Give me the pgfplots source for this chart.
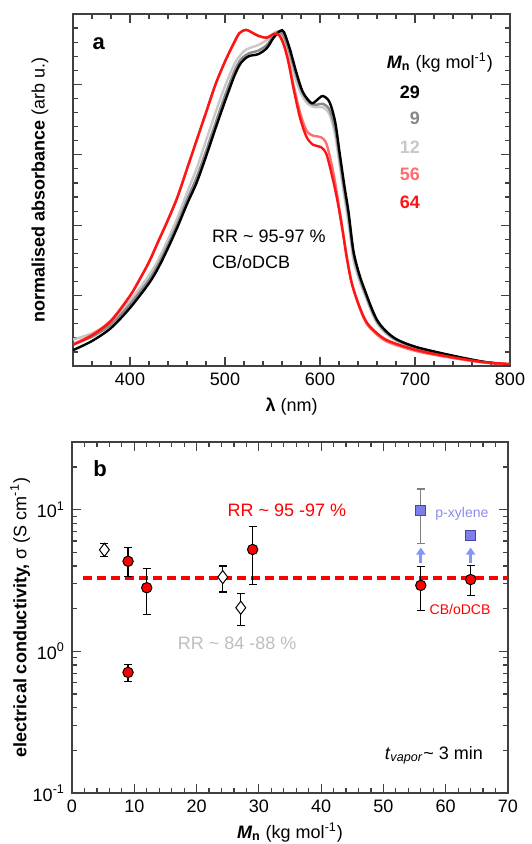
\documentclass[border=0pt]{standalone}
\usepackage{fontspec}
\setmainfont{Liberation Sans}
\usepackage{pgfplots}
\pgfplotsset{compat=1.18}
\usetikzlibrary{arrows.meta}

\definecolor{lgray}{RGB}{200,200,200}
\definecolor{mgray}{RGB}{135,135,135}
\definecolor{lred}{RGB}{255,110,110}
\definecolor{pred}{RGB}{255,20,20}
\definecolor{sqblue}{RGB}{125,125,235}
\definecolor{sqedge}{RGB}{70,70,160}
\definecolor{txtblue}{RGB}{140,140,240}
\definecolor{arrblue}{RGB}{130,150,250}
\definecolor{rrgray}{RGB}{190,190,190}
\definecolor{axgray}{RGB}{64,64,64}

\newcommand{\fs}[1]{\fontsize{#1}{#1}\selectfont}

\pgfplotsset{
  panel/.style={
    scale only axis,
    anchor=south west,
    font=\fs{9bp},
    tick label style={font=\fs{9bp}},
    label style={font=\fs{9bp}},
    axis line style={axgray, line width=0.75bp},
    /pgf/number format/assume math mode=true,
  },
  spec/.style={smooth, line width=1.2bp, no markers},
  ebar/.style={error bars/.cd, y dir=both, y explicit,
    error bar style={black, line width=0.6bp},
    error mark options={rotate=90, mark size=2bp, line width=0.6bp, black}},
}

\begin{document}
\begin{tikzpicture}
% page frame (no drawing, only extent)
\path (0,0) rectangle (262.5bp,-422bp);

% ---------------- panel a ----------------
\begin{axis}[panel,
  at={(36.5bp,-183bp)}, width=218.5bp, height=176bp,
  xmin=340, xmax=800, ymin=0, ymax=1,
  xtick={400,500,600,700,800},
  minor xtick={360,380,420,440,460,480,520,540,560,580,620,640,660,680,720,740,760,780},
  ytick={0,0.2,0.4,0.6,0.8,1},
  minor ytick={0.04,0.08,0.12,0.16,0.24,0.28,0.32,0.36,0.44,0.48,0.52,0.56,0.64,0.68,0.72,0.76,0.84,0.88,0.92,0.96},
  yticklabels={},
  major tick length=4.5bp,
  minor tick length=2.5bp,
  xtick style={axgray, line width=0.6bp},
  ytick style={axgray, line width=0.6bp},
  xlabel={{\bfseries λ} (nm)},
  ylabel={{\bfseries normalised absorbance} (arb u.)},
  xlabel style={at={(axis description cs:0.5,-0.114)}, anchor=center},
  ylabel style={at={(axis description cs:-0.0755,0.5)}, anchor=center},
]
% Mn = 12
\addplot[spec, lgray] table {
340 0.075
360 0.093
380 0.125
400 0.185
420 0.258
430 0.303
440 0.360
450 0.422
460 0.492
470 0.560
480 0.640
490 0.720
500 0.795
510 0.858
517 0.886
523 0.900
535 0.912
544 0.926
550 0.942
554 0.950
559 0.943
565 0.900
572 0.835
579 0.780
587 0.745
595 0.735
603 0.735
610 0.715
616 0.655
621 0.565
626 0.475
630 0.405
635 0.305
640 0.255
646 0.210
660 0.122
677 0.077
700 0.052
737 0.029
772 0.012
800 0.004
};
% Mn = 9
\addplot[spec, mgray] table {
340 0.062
360 0.083
380 0.118
400 0.175
420 0.245
430 0.290
440 0.345
450 0.405
460 0.472
470 0.535
480 0.610
490 0.690
500 0.768
510 0.838
517 0.872
525 0.888
535 0.896
544 0.912
551 0.938
556 0.950
561 0.942
567 0.900
574 0.835
581 0.780
589 0.748
596 0.742
603 0.745
610 0.728
616 0.673
621 0.583
626 0.493
630 0.425
635 0.322
640 0.266
646 0.218
660 0.127
677 0.080
700 0.054
737 0.030
772 0.012
800 0.004
};
% Mn = 29
\addplot[spec, black] table {
340 0.045
360 0.071
380 0.108
400 0.165
420 0.235
430 0.280
440 0.335
450 0.395
460 0.460
470 0.520
480 0.595
490 0.675
500 0.752
510 0.825
517 0.862
525 0.880
535 0.886
544 0.903
551 0.932
558 0.952
562 0.949
568 0.903
575 0.835
582 0.778
591 0.747
597 0.756
603 0.767
610 0.750
616 0.693
621 0.599
626 0.506
630 0.438
635 0.330
640 0.273
646 0.224
660 0.131
677 0.082
700 0.055
737 0.031
772 0.012
800 0.003
};
% Mn = 56
\addplot[spec, lred] table {
340 0.062
360 0.089
380 0.130
400 0.200
410 0.246
420 0.296
430 0.356
440 0.416
450 0.481
460 0.560
470 0.640
480 0.720
490 0.800
500 0.865
508 0.910
515 0.945
522 0.955
528 0.948
535 0.938
544 0.933
552 0.944
557 0.940
562 0.912
567 0.865
572 0.800
579 0.720
586 0.668
593 0.654
601 0.650
607 0.630
614 0.550
619 0.470
624 0.385
628 0.315
633 0.240
639 0.185
646 0.136
653 0.107
670 0.070
702 0.042
737 0.024
772 0.010
800 0.005
};
% Mn = 64
\addplot[spec, pred] table {
340 0.060
360 0.087
380 0.128
400 0.199
410 0.245
420 0.295
430 0.355
440 0.415
450 0.480
460 0.560
470 0.640
480 0.720
490 0.800
500 0.865
508 0.910
515 0.945
522 0.955
528 0.948
535 0.938
544 0.933
552 0.944
557 0.940
562 0.912
567 0.860
572 0.790
579 0.705
586 0.650
593 0.628
601 0.622
607 0.600
614 0.525
619 0.460
624 0.380
628 0.310
633 0.240
639 0.188
646 0.140
653 0.111
670 0.074
702 0.045
737 0.026
772 0.011
800 0.006
};
\node[font=\bfseries\fs{11bp}] at (axis cs:367,0.915) {a};
\node[anchor=west] at (axis cs:479,0.369) {RR \textasciitilde{} 95-97 \%};
\node[anchor=west] at (axis cs:479,0.295) {CB/oDCB};
\node[anchor=base west] at (axis cs:663,0.844) {{\bfseries\itshape M}\textsubscript{\bfseries n} (kg mol\textsuperscript{-1})};
\node[anchor=base east, font=\bfseries\fs{9bp}, black] at (axis cs:712.6,0.760) {29};
\node[anchor=base east, font=\bfseries\fs{9bp}, mgray] at (axis cs:712.6,0.685) {9};
\node[anchor=base east, font=\bfseries\fs{9bp}, lgray] at (axis cs:712.6,0.604) {12};
\node[anchor=base east, font=\bfseries\fs{9bp}, lred] at (axis cs:712.6,0.527) {56};
\node[anchor=base east, font=\bfseries\fs{9bp}, pred] at (axis cs:712.6,0.448) {64};
\end{axis}

% ---------------- panel b ----------------
\begin{axis}[panel,
  at={(36bp,-396.5bp)}, width=218bp, height=175.5bp,
  xmin=0, xmax=70, ymode=log, ymin=0.1, ymax=30,
  xtick={0,10,20,30,40,50,60,70},
  minor xtick={2,4,6,8,12,14,16,18,22,24,26,28,32,34,36,38,42,44,46,48,52,54,56,58,62,64,66,68},
  ytick={0.1,1,10},
  minor ytick={0.2,0.3,0.4,0.5,0.6,0.7,0.8,0.9,2,3,4,5,6,7,8,9,20,30},
  yticklabels={10\textsuperscript{-1},10\textsuperscript{0},10\textsuperscript{1}},
  major tick length=4.5bp,
  minor tick length=2.5bp,
  xtick style={axgray, line width=0.6bp},
  ytick style={axgray, line width=0.6bp},
  xlabel={{\bfseries\itshape M}\textsubscript{\bfseries n} (kg mol\textsuperscript{-1})},
  ylabel={{\bfseries electrical conductivity,} σ (S cm\textsuperscript{-1})},
  xlabel style={at={(axis description cs:0.5,-0.131)}, anchor=base, inner sep=0pt},
  ylabel style={at={(axis description cs:-0.119,0.5)}, anchor=center},
]
\addplot[red, line width=2bp, dash pattern=on 4.5bp off 2.5bp] coordinates {(1.8,3.3) (70,3.3)};
% RR 84-88 %
\addplot[only marks, mark=diamond*, mark size=3.3bp,
  mark options={fill=white, draw=black, line width=0.5bp}, ebar]
  table[x=x, y=y, y error plus=ep, y error minus=em] {
x y ep em
5.2 5.20 0.53 0.51
24.2 3.34 0.66 0.72
27.1 2.03 0.52 0.51
};
% p-xylene
\addplot[only marks, mark=square*, mark size=2.5bp,
  mark options={fill=sqblue, draw=sqedge, line width=0.4bp},
  error bars/.cd, y dir=both, y explicit,
  error bar style={gray, line width=0.6bp},
  error mark options={rotate=90, mark size=2bp, line width=0.6bp, gray}]
  table[x=x, y=y, y error plus=ep, y error minus=em] {
x y ep em
56 9.95 4.05 4.22
};
\addplot[only marks, mark=square*, mark size=2.5bp,
  mark options={fill=sqblue, draw=sqedge, line width=0.4bp}, ebar]
  table[x=x, y=y, y error plus=ep, y error minus=em] {
x y ep em
64 6.53 0.43 0.41
};
% RR 95-97 %, CB/oDCB
\addplot[only marks, mark=*, mark size=2.6bp,
  mark options={fill=red, draw=black, line width=0.5bp}, ebar]
  table[x=x, y=y, y error plus=ep, y error minus=em] {
x y ep em
9 4.32 1.08 0.95
9 0.71 0.10 0.095
12 2.81 1.01 1.00
29 5.23 2.36 2.27
56 2.92 1.07 0.98
64 3.21 0.80 0.74
};
\draw[arrblue, line width=1.5bp, -{Triangle[width=4.5bp,length=3.5bp]}] (axis cs:56,4.17) -- (axis cs:56,5.4);
\draw[arrblue, line width=1.5bp, -{Triangle[width=4.5bp,length=3.5bp]}] (axis cs:64,4.17) -- (axis cs:64,5.4);
\node[font=\bfseries\fs{11bp}] at (axis cs:4.5,19.5) {b};
\node[red] at (axis cs:34.5,9.84) {RR \textasciitilde{} 95 -97 \%};
\node[txtblue, font=\fs{7bp}] at (axis cs:62.6,9.38) {p-xylene};
\node[red, font=\fs{7bp}] at (axis cs:62.3,1.98) {CB/oDCB};
\node[rrgray] at (axis cs:26.5,1.14) {RR \textasciitilde{} 84 -88 \%};
\node at (axis cs:58.1,0.185) {\textit{t}\textsubscript{\textit{vapor}}\textasciitilde{} 3 min};
\end{axis}
\end{tikzpicture}
\end{document}
